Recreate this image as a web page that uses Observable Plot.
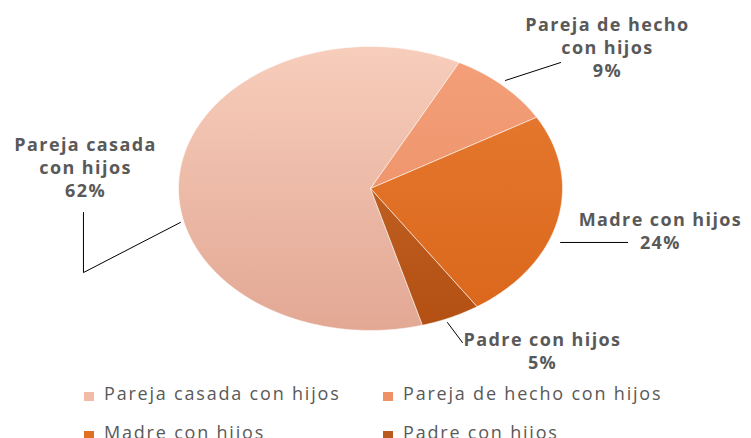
<!DOCTYPE html>
<html><head><meta charset="utf-8">
<script src="https://cdn.jsdelivr.net/npm/d3@7"></script>
<script src="https://cdn.jsdelivr.net/npm/@observablehq/plot@0.6"></script>
<style>
body{margin:0;background:#fff;width:751px;height:438px;overflow:hidden;font-family:"Open Sans",sans-serif}
#chart{position:relative;width:751px}
.legend{position:relative;width:751px;height:68px}
.item{position:absolute;font-size:18px;line-height:20px;color:#595959;letter-spacing:1.8px;white-space:nowrap}
.sw{position:absolute;width:10px;height:9px}
</style></head><body><div id="chart"></div>
<script>
// ---- data ----
const categories = ["Pareja casada con hijos", "Pareja de hecho con hijos", "Madre con hijos", "Padre con hijos"];
const values = [62, 9, 24, 5];
const percentLabels = ["62%", "9%", "24%", "5%"];
const labelNames = ["Pareja casada\ncon hijos", "Pareja de hecho\ncon hijos", "Madre con hijos", "Padre con hijos"];

// ---- styles ----
const colorTop = ["#f7cdbb", "#f4a07a", "#e77c33", "#c86d2e"];
const colorBottom = ["#e2a894", "#ea8b60", "#da661a", "#b34f12"];
const swatchColors = ["#f2bba7", "#ef9166", "#e06f22", "#b95a1e"];

// ---- layout (data units of the pie, radius = 1) ----
const firstSliceAngle = 164.3;
const labelPos = [[-1.484, 0.155], [1.234, 0.998], [1.51, -0.296], [0.896, -1.141]];
const leaders = [
  [[-0.99, -0.239], [-1.495, -0.592], [-1.495, -0.169]],
  [[0.703, 0.761], [0.99, 0.887]],
  [[0.99, -0.38], [1.339, -0.38]],
  [[0.401, -0.944], [0.479, -1.085]]
];

const total = d3.sum(values);
let acc = firstSliceAngle;
const slicePts = [];
categories.forEach((c, i) => {
  const a0 = acc, a1 = acc + values[i] / total * 360;
  acc = a1;
  const n = Math.max(2, Math.ceil(a1 - a0));
  slicePts.push({cat: c, x: 0, y: 0});
  for (let k = 0; k <= n; k++) {
    const t = (a0 + (a1 - a0) * k / n) * Math.PI / 180;
    slicePts.push({cat: c, x: Math.sin(t), y: Math.cos(t)});
  }
  slicePts.push({cat: c, x: 0, y: 0});
});

const labels = categories.map((c, i) => ({
  x: labelPos[i][0], y: labelPos[i][1], text: labelNames[i] + "\n" + percentLabels[i]
}));

const H = 370;
const svg = Plot.plot({
  width: 751, height: H,
  marginLeft: 178, marginRight: 189, marginTop: 46, marginBottom: 40,
  x: {domain: [-1, 1], axis: null},
  y: {domain: [-1, 1], axis: null},
  color: {domain: categories, range: colorTop},
  style: {fontFamily: "'Open Sans', sans-serif", background: "#fff", overflow: "visible"},
  marks: [
    Plot.line(slicePts, {
      x: "x", y: "y", z: "cat", fill: "cat", stroke: "#ffffff", strokeOpacity: 0.55,
      strokeWidth: 1, curve: "linear"
    }),
    ...leaders.map(pts => Plot.line(pts.map(([x, y]) => ({x, y})), {
      x: "x", y: "y", stroke: "#000", strokeWidth: 1
    })),
    Plot.text(labels, {
      x: "x", y: "y", text: "text", fontSize: 18, fontWeight: "bold", fill: "#595959",
      lineHeight: 1.28, textAnchor: "middle", lineAnchor: "middle"
    })
  ]
});

// vertical gradients on slices
const ys = svg.scale("y");
const yTop = ys.apply(1), yBot = ys.apply(-1);
const ns = "http://www.w3.org/2000/svg";
const defs = document.createElementNS(ns, "defs");
colorTop.forEach((c, i) => {
  const g = document.createElementNS(ns, "linearGradient");
  g.setAttribute("id", "pgrad" + i);
  g.setAttribute("gradientUnits", "userSpaceOnUse");
  g.setAttribute("x1", "0"); g.setAttribute("x2", "0");
  g.setAttribute("y1", String(yTop)); g.setAttribute("y2", String(yBot));
  [["0%", c], ["100%", colorBottom[i]]].forEach(([o, col]) => {
    const s = document.createElementNS(ns, "stop");
    s.setAttribute("offset", o); s.setAttribute("stop-color", col);
    g.appendChild(s);
  });
  defs.appendChild(g);
});
svg.appendChild(defs);
svg.querySelectorAll("path").forEach(p => {
  const f = (p.getAttribute("fill") || "").toLowerCase();
  const idx = colorTop.indexOf(f);
  if (idx >= 0) p.setAttribute("fill", `url(#pgrad${idx})`);
});
svg.querySelectorAll('g[aria-label="text"]').forEach(g => { g.style.letterSpacing = "1.4px"; });

const chart = document.getElementById("chart");
chart.appendChild(svg);

// legend
const legend = document.createElement("div");
legend.className = "legend";
const legendCols = [84, 383];
const legendRows = [13, 52];
categories.forEach((c, i) => {
  const col = i % 2, row = Math.floor(i / 2);
  const sw = document.createElement("div");
  sw.className = "sw";
  sw.style.left = legendCols[col] + "px";
  sw.style.top = (legendRows[row] + 9) + "px";
  sw.style.background = swatchColors[i];
  legend.appendChild(sw);
  const t = document.createElement("div");
  t.className = "item";
  t.style.left = (legendCols[col] + 20) + "px";
  t.style.top = legendRows[row] + "px";
  t.textContent = c;
  legend.appendChild(t);
});
chart.appendChild(legend);
</script></body></html>
